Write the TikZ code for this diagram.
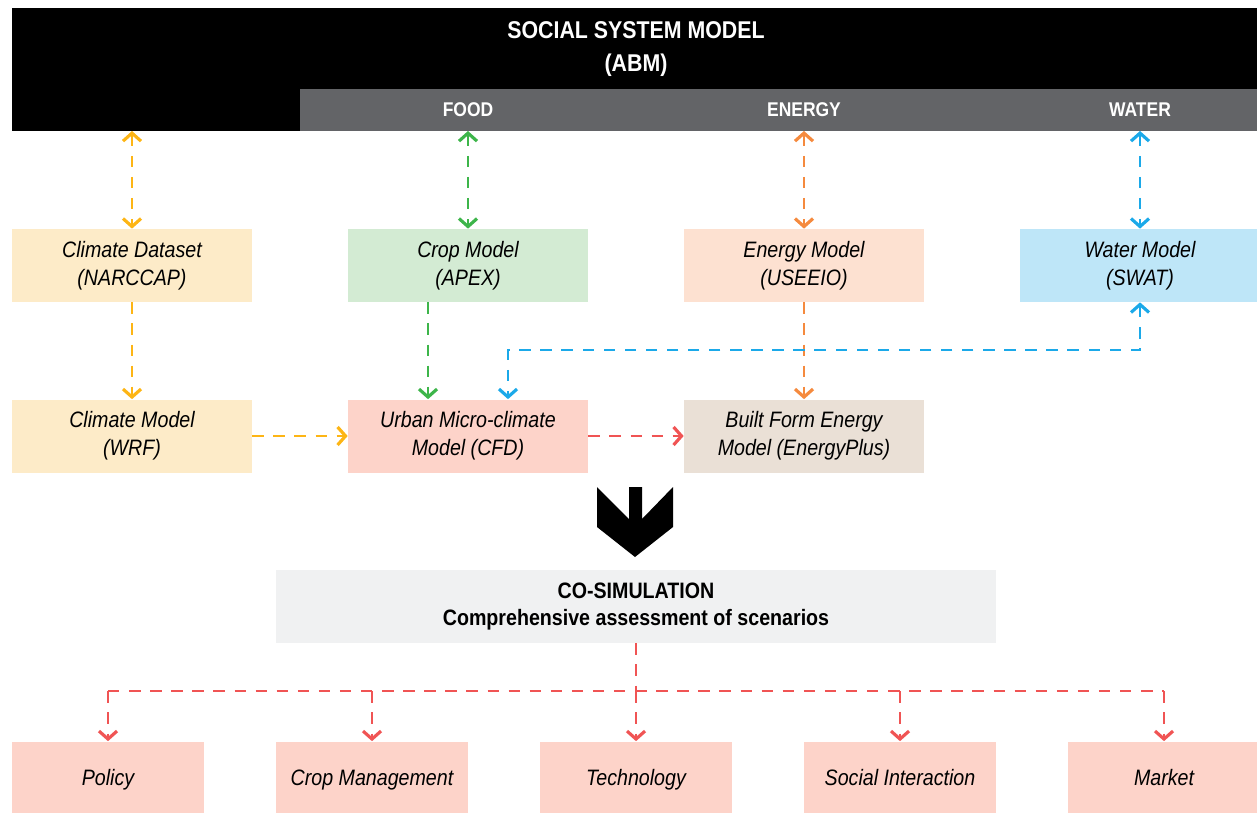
\documentclass[tikz,border=0pt]{standalone}
\usepackage{fontspec}
\setmainfont{Liberation Sans}[FakeStretch=0.88]
\usetikzlibrary{arrows.meta,calc}
\definecolor{yel}{HTML}{FDB515}
\definecolor{grn}{HTML}{3DB54A}
\definecolor{org}{HTML}{F58A3E}
\definecolor{blu}{HTML}{1BA9E9}
\definecolor{rd}{HTML}{F05454}
\definecolor{yelfill}{HTML}{FDEBC8}
\definecolor{grnfill}{HTML}{D3EBD3}
\definecolor{orgfill}{HTML}{FDE1D1}
\definecolor{blufill}{HTML}{BEE6F8}
\definecolor{rdfill}{HTML}{FDD3C9}
\definecolor{brnfill}{HTML}{EAE0D6}
\definecolor{cofill}{HTML}{F0F1F2}
\definecolor{band}{HTML}{636467}
\tikzset{
  box/.style={minimum width=4.8cm, minimum height=1.46cm, inner sep=0pt,
    align=center, font=\fontsize{12.7}{15.9}\selectfont\itshape},
  smallbox/.style={box, minimum width=3.84cm, minimum height=1.42cm,
    text height=2.1ex, text depth=0.35ex},
  link/.style={dashed, dash pattern=on 6.5pt off 5.5pt, line width=0.04cm,
    >={Straight Barb[length=1.6mm, width=3.6mm, line width=1.8pt]}},
  hdr/.style={text=white, font=\fontsize{11.3}{14.5}\selectfont\bfseries, align=center}
}
\begin{document}
\begin{tikzpicture}[x=0.02cm, y=-0.02cm]
 \useasboundingbox (0,0) rectangle (1257,812);
 % header
 \fill (12,8) rectangle (1257,131);
 \fill[band] (300,89) rectangle (1257,131);
 \coordinate (sysbot) at (636,131);
 \node[hdr, font=\fontsize{13.8}{19}\selectfont\bfseries] (sysmodel) at (636,49) {SOCIAL SYSTEM MODEL\\(ABM)};
 \node[hdr] (food) at (468,110) {FOOD};
 \node[hdr] (energy) at (804,110) {ENERGY};
 \node[hdr] (water) at (1140,110) {WATER};
 % models
 \node[box, fill=yelfill] (climdata) at (132,265.5) {Climate Dataset\\(NARCCAP)};
 \node[box, fill=grnfill] (crop) at (468,265.5) {Crop Model\\(APEX)};
 \node[box, fill=orgfill] (energymod) at (804,265.5) {Energy Model\\(USEEIO)};
 \node[box, fill=blufill] (watermod) at (1140,265.5) {Water Model\\(SWAT)};
 \node[box, fill=yelfill] (climmod) at (132,436) {Climate Model\\(WRF)};
 \node[box, fill=rdfill] (urban) at (468,436) {Urban Micro-climate\\Model (CFD)};
 \node[box, fill=brnfill] (builtform) at (804,436) {Built Form Energy\\Model (EnergyPlus)};
 % chevron
 \fill (597,487) -- (629,519) -- (629,487) -- (642,487) -- (642,519) -- (673,487)
   -- (673,527) -- (635,557) -- (597,527) -- cycle;
 \node[box, fill=cofill, minimum width=14.4cm, font=\fontsize{12.7}{15.9}\selectfont\bfseries]
   (cosim) at (636,606.5) {CO-SIMULATION\\Comprehensive assessment of scenarios};
 % outcomes
 \node[smallbox, fill=rdfill] (policy) at (108,777) {Policy};
 \node[smallbox, fill=rdfill] (cropmgmt) at (372,777) {Crop Management};
 \node[smallbox, fill=rdfill] (tech) at (636,777) {Technology};
 \node[smallbox, fill=rdfill] (social) at (900,777) {Social Interaction};
 \node[smallbox, fill=rdfill] (market) at (1164,777) {Market};
 % links to social system model
 \draw[link, yel, <->] (climdata.north |- sysbot) -- (climdata.north);
 \draw[link, grn, <->] (crop.north |- sysbot) -- (crop.north);
 \draw[link, org, <->] (energymod.north |- sysbot) -- (energymod.north);
 \draw[link, blu, <->] (watermod.north |- sysbot) -- (watermod.north);
 % links between models
 \draw[link, yel, ->] (climdata) -- (climmod);
 \draw[link, yel, ->] (climmod) -- (urban);
 \draw[link, grn, ->] ([xshift=-0.8cm]crop.south) -- ([xshift=-0.8cm]urban.north);
 \draw[link, org, ->] (energymod) -- (builtform);
 \draw[link, rd, ->] (urban) -- (builtform);
 \draw[link, blu, <->] (watermod.south) -- ++(0,48) -| ([xshift=0.8cm]urban.north);
 % co-simulation outputs
 \draw[link, rd] (cosim.south) -- ++(0,48) coordinate (split);
 \draw[link, rd] (policy.north |- split) -- (market.north |- split);
 \foreach \n in {policy,cropmgmt,tech,social,market}
   \draw[link, rd, ->] (\n.north |- split) -- (\n.north);
\end{tikzpicture}
\end{document}
